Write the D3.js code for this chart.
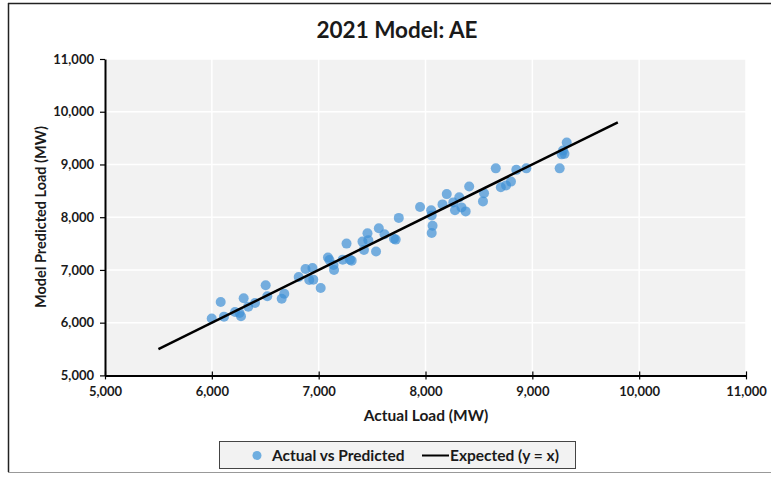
<!DOCTYPE html>
<html><head><meta charset="utf-8">
<script src="https://cdn.jsdelivr.net/npm/d3@7"></script>
<style>
body{margin:0;background:#fff;}
text{font-family:Lato,"Open Sans",sans-serif;font-weight:bold;fill:#1a1a1a;}
</style></head><body>
<svg id="c" width="775" height="477"></svg>
<script>
const title = "2021 Model: AE";
const xLabel = "Actual Load (MW)";
const yLabel = "Model Predicted Load (MW)";
const tickValues = [5000, 6000, 7000, 8000, 9000, 10000, 11000];
const actual = [5999,6083,6114,6217,6259,6273,6298,6341,6404,6504,6519,6654,6678,6813,6877,6912,6942,6950,7019,7087,7101,7139,7144,7225,7261,7293,7309,7410,7424,7457,7465,7537,7563,7616,7705,7721,7750,7949,8053,8058,8066,8058,8159,8199,8260,8276,8316,8337,8376,8409,8538,8548,8658,8705,8754,8800,8850,8944,9256,9275,9287,9301,9322];
const predicted = [6080,6393,6114,6203,6184,6121,6463,6304,6374,6710,6501,6455,6550,6867,7019,6810,7038,6816,6658,7237,7190,7095,7000,7195,7499,7195,7176,7537,7380,7696,7564,7351,7791,7677,7592,7575,7987,8195,8133,8034,7839,7702,8243,8438,8281,8133,8376,8186,8110,8581,8300,8455,8926,8569,8603,8675,8898,8926,8926,9192,9264,9201,9416];
const expectedX = [5500, 9800];
const seriesNames = ["Actual vs Predicted", "Expected (y = x)"];

const svg = d3.select("#c");
// outer frame
svg.append("line").attr("x1",8.5).attr("x2",8.5).attr("y1",3).attr("y2",472).attr("stroke","#222").attr("stroke-width",1.5);
svg.append("line").attr("x1",8).attr("x2",771).attr("y1",3.5).attr("y2",3.5).attr("stroke","#222").attr("stroke-width",1.5);
svg.append("line").attr("x1",8).attr("x2",771).attr("y1",472.5).attr("y2",472.5).attr("stroke","#999").attr("stroke-width",1);

const L=105,R=746,T=59,B=375.4;
const x = d3.scaleLinear().domain([5000,11000]).range([L,R]);
const y = d3.scaleLinear().domain([5000,11000]).range([B,T]);

svg.append("rect").attr("x",L).attr("y",T).attr("width",R-L).attr("height",B-T).attr("fill","#f2f2f2");
// gridlines
svg.append("g").selectAll("line").data(tickValues.slice(1)).join("line")
  .attr("x1",d=>x(d)).attr("x2",d=>x(d)).attr("y1",T).attr("y2",B).attr("stroke","#fff").attr("stroke-width",1.5);
svg.append("g").selectAll("line").data(tickValues.slice(1)).join("line")
  .attr("y1",d=>y(d)).attr("y2",d=>y(d)).attr("x1",L).attr("x2",R).attr("stroke","#fff").attr("stroke-width",1.5);

// points
svg.append("g").selectAll("circle").data(actual.map((a,i)=>[a,predicted[i]])).join("circle")
  .attr("cx",d=>x(d[0])).attr("cy",d=>y(d[1])).attr("r",5)
  .attr("fill","#3f90d6").attr("fill-opacity",0.7);

// expected line
svg.append("line").attr("x1",x(expectedX[0])).attr("y1",y(expectedX[0])).attr("x2",x(expectedX[1])).attr("y2",y(expectedX[1]))
  .attr("stroke","#000").attr("stroke-width",2.5);

// axes
const fmt = d3.format(",");
const xa = svg.append("g").attr("transform",`translate(0,${B})`)
  .call(d3.axisBottom(x).tickValues(tickValues).tickFormat(fmt).tickSize(4).tickSizeOuter(0).tickPadding(7));
const ya = svg.append("g").attr("transform",`translate(${L},0)`)
  .call(d3.axisLeft(y).tickValues(tickValues).tickFormat(fmt).tickSize(5).tickSizeOuter(0).tickPadding(6));
[xa,ya].forEach(g=>{
  g.select(".domain").attr("stroke","#000").attr("stroke-width",2);
  g.selectAll(".tick line").attr("stroke","#000").attr("stroke-width",1.2);
  g.selectAll(".tick text").attr("font-size",13).attr("fill","#1a1a1a").style("font-family","Lato,'Open Sans',sans-serif").style("font-weight","bold");
});
xa.selectAll(".tick line").attr("y1",-4);
ya.selectAll(".tick line").attr("x2",-5);

// titles
svg.append("text").attr("x",397).attr("y",38).attr("text-anchor","middle").attr("font-size",22.5).text(title);
svg.append("text").attr("x",426).attr("y",421).attr("text-anchor","middle").attr("font-size",15.5).text(xLabel);
svg.append("text").attr("transform","translate(46,217) rotate(-90)").attr("text-anchor","middle").attr("font-size",14.5).text(yLabel);

// legend
const lg = svg.append("g");
lg.append("rect").attr("x",219.5).attr("y",441.5).attr("width",356).attr("height",27).attr("fill","#f2f2f2").attr("stroke","#444").attr("stroke-width",1);
lg.append("circle").attr("cx",257).attr("cy",455.5).attr("r",4.5).attr("fill","#6faee0");
lg.append("text").attr("x",272).attr("y",461).attr("font-size",15.5).text(seriesNames[0]);
lg.append("line").attr("x1",422).attr("x2",449).attr("y1",455.5).attr("y2",455.5).attr("stroke","#000").attr("stroke-width",2);
lg.append("text").attr("x",450).attr("y",461).attr("font-size",15.5).text(seriesNames[1]);
</script></body></html>
